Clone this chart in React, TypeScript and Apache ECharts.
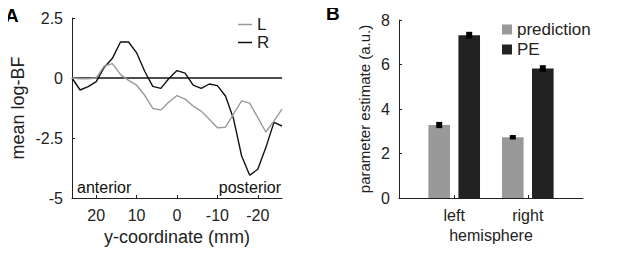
import React, { useEffect, useRef } from "react";
import * as echarts from "echarts";

// Panel A: y-coordinate (mm) and mean log-BF
const yCoord = [26, 24, 22, 20, 18, 16, 14, 12, 10, 8, 6, 4, 2, 0, -2, -4, -6, -8, -10, -12, -14, -16, -18, -20, -22, -24, -26];
const seriesL = [0, -0.03, -0.03, 0, 0.5, 0.6, 0.15, -0.1, -0.3, -0.72, -1.27, -1.33, -1.0, -0.73, -0.88, -1.17, -1.38, -1.72, -2.07, -2.05, -1.5, -0.95, -1.05, -1.65, -2.25, -1.8, -1.3];
const seriesR = [0, -0.5, -0.36, -0.15, 0.45, 0.82, 1.5, 1.5, 1.05, 0.28, -0.35, -0.43, -0.02, 0.31, 0.2, -0.3, -0.43, -0.25, -0.32, -0.75, -1.7, -3.25, -4.05, -3.8, -2.9, -1.85, -2.0];
const xTicksA = [20, 10, 0, -10, -20];

// Panel B: parameter estimates by hemisphere
const hemiCategories = ["", "left", "", "right", ""];
const predValues = [null, 3.28, null, 2.73, null];
const peValues = [null, 7.32, null, 5.82, null];
const predErr = [0, 0.14, 0, 0.1, 0];
const peErr = [0, 0.15, 0, 0.15, 0];

const FONT = "'Liberation Sans', Arial, Helvetica, sans-serif";

export default function App() {
  const ref = useRef<HTMLDivElement>(null);
  useEffect(() => {
    if (!ref.current) return;
    const chart = echarts.init(ref.current, undefined, { renderer: "svg" });
    const axisColor = "#222";
    const errData: any[] = [];
    predValues.forEach((v, i) => {
      if (v != null) errData.push([i, v, predErr[i], -15]);
    });
    peValues.forEach((v, i) => {
      if (v != null) errData.push([i, v, peErr[i], 15]);
    });
    const option: any = {
      animation: false,
      textStyle: { fontFamily: FONT },
      grid: [
        { left: 72, top: 18, width: 210, height: 180 },
        { left: 399, top: 20, width: 184, height: 178 },
      ],
      xAxis: [
        {
          gridIndex: 0,
          type: "value",
          min: -26,
          max: 26,
          inverse: true,
          name: "y-coordinate (mm)",
          nameLocation: "middle",
          nameGap: 28,
          nameTextStyle: { fontSize: 18, color: "#222", fontFamily: FONT },
          axisLine: { show: true, onZero: false, lineStyle: { color: axisColor, width: 1 } },
          axisTick: { show: true, inside: true, length: 3, customValues: xTicksA, lineStyle: { color: axisColor } },
          axisLabel: { customValues: xTicksA, fontSize: 16, color: "#222", margin: 9, fontFamily: FONT },
          splitLine: { show: false },
        },
        {
          gridIndex: 1,
          type: "category",
          data: hemiCategories,
          name: "hemisphere",
          nameLocation: "middle",
          nameGap: 28,
          nameTextStyle: { fontSize: 16, color: "#222", fontFamily: FONT },
          axisLine: { show: true, onZero: false, lineStyle: { color: axisColor, width: 1 } },
          axisTick: {
            show: true,
            inside: true,
            length: 3,
            alignWithLabel: true,
            interval: (i: number) => i === 1 || i === 3,
            lineStyle: { color: axisColor },
          },
          axisLabel: { interval: 0, fontSize: 16, color: "#222", margin: 9, fontFamily: FONT },
          splitLine: { show: false },
        },
      ],
      yAxis: [
        {
          gridIndex: 0,
          type: "value",
          min: -5,
          max: 2.5,
          interval: 2.5,
          name: "mean log-BF",
          nameLocation: "middle",
          nameGap: 45,
          nameTextStyle: { fontSize: 18, color: "#222", fontFamily: FONT },
          axisLine: { show: true, onZero: false, lineStyle: { color: axisColor, width: 1 } },
          axisTick: { show: true, inside: true, length: 3, lineStyle: { color: axisColor } },
          axisLabel: { fontSize: 16, color: "#222", margin: 9, fontFamily: FONT },
          splitLine: { show: false },
        },
        {
          gridIndex: 1,
          type: "value",
          min: 0,
          max: 8,
          interval: 2,
          name: "parameter estimate (a.u.)",
          nameLocation: "middle",
          nameGap: 27,
          nameTextStyle: { fontSize: 15, color: "#222", fontFamily: FONT },
          axisLine: { show: true, onZero: false, lineStyle: { color: axisColor, width: 1 } },
          axisTick: { show: true, inside: true, length: 3, lineStyle: { color: axisColor } },
          axisLabel: { fontSize: 16, color: "#222", margin: 9, fontFamily: FONT },
          splitLine: { show: false },
        },
      ],
      legend: [
        {
          data: ["L", "R"],
          orient: "vertical",
          left: 233,
          top: 11,
          icon: "rect",
          itemWidth: 14,
          itemHeight: 1.5,
          itemGap: 1,
          textStyle: { fontSize: 17, color: "#222", fontFamily: FONT },
        },
        {
          data: ["prediction", "PE"],
          orient: "vertical",
          left: 497,
          top: 16,
          itemWidth: 10,
          itemHeight: 10,
          itemGap: 3,
          icon: "rect",
          textStyle: { fontSize: 17, color: "#222", fontFamily: FONT },
        },
      ],
      series: [
        {
          name: "zero",
          type: "line",
          xAxisIndex: 0,
          yAxisIndex: 0,
          data: [[26, 0], [-26, 0]],
          symbol: "none",
          lineStyle: { color: "#111", width: 1.3 },
          silent: true,
          z: 1,
        },
        {
          name: "R",
          type: "line",
          xAxisIndex: 0,
          yAxisIndex: 0,
          data: yCoord.map((x, i) => [x, seriesR[i]]),
          symbol: "none",
          lineStyle: { color: "#111", width: 1.4 },
          itemStyle: { color: "#111" },
          z: 2,
        },
        {
          name: "L",
          type: "line",
          xAxisIndex: 0,
          yAxisIndex: 0,
          data: yCoord.map((x, i) => [x, seriesL[i]]),
          symbol: "none",
          lineStyle: { color: "#9a9a9a", width: 1.4 },
          itemStyle: { color: "#9a9a9a" },
          z: 3,
        },
        {
          name: "prediction",
          type: "bar",
          xAxisIndex: 1,
          yAxisIndex: 1,
          data: predValues,
          barWidth: 21.6,
          barGap: "39%",
          itemStyle: { color: "#999999" },
        },
        {
          name: "PE",
          type: "bar",
          xAxisIndex: 1,
          yAxisIndex: 1,
          data: peValues,
          barWidth: 21.6,
          barGap: "39%",
          itemStyle: { color: "#222222" },
        },
        {
          name: "err",
          type: "custom",
          xAxisIndex: 1,
          yAxisIndex: 1,
          data: errData,
          z: 5,
          renderItem: (params: any, api: any) => {
            const idx = api.value(0);
            const v = api.value(1);
            const e = api.value(2);
            const off = api.value(3);
            const top = api.coord([idx, v + e]);
            const bot = api.coord([idx, v - e]);
            return {
              type: "rect",
              shape: { x: top[0] + off - 3, y: top[1], width: 6, height: bot[1] - top[1] },
              style: { fill: "#000" },
            };
          },
        },
      ],
      graphic: [
        { type: "text", left: 5, top: 6, style: { text: "A", fontSize: 19, fontWeight: "bold", fontFamily: FONT, fill: "#000" } },
        { type: "text", left: 326, top: 4, style: { text: "B", fontSize: 19, fontWeight: "bold", fontFamily: FONT, fill: "#000" } },
        { type: "text", left: 77, top: 179, style: { text: "anterior", fontSize: 16, fontFamily: FONT, fill: "#111" } },
        { type: "text", right: 336, top: 179, style: { text: "posterior", fontSize: 16, fontFamily: FONT, fill: "#111" } },
      ],
    };
    chart.setOption(option);
    return () => chart.dispose();
  }, []);
  return <div ref={ref} style={{ width: 617, height: 260, margin: -8, background: "#fff" }} />;
}
